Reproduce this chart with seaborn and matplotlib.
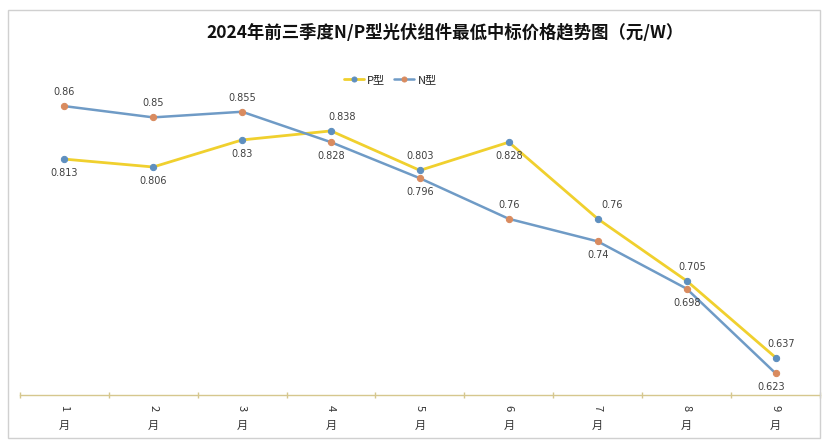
import numpy as np
import pandas as pd
import matplotlib
matplotlib.use("Agg")
import matplotlib.pyplot as plt
import seaborn as sns
from matplotlib.patches import Rectangle

months = ["1月", "2月", "3月", "4月", "5月", "6月", "7月", "8月", "9月"]
p_type = [0.813, 0.806, 0.83, 0.838, 0.803, 0.828, 0.76, 0.705, 0.637]
n_type = [0.86, 0.85, 0.855, 0.828, 0.796, 0.76, 0.74, 0.698, 0.623]

sns.set_theme(style="white")
plt.rcParams["font.family"] = ["Noto Sans CJK SC", "DejaVu Sans"]

x = np.arange(len(months))
df = pd.DataFrame({"x": x, "P型": p_type, "N型": n_type})

fig = plt.figure(figsize=(8.25, 4.45), dpi=100)
ax = fig.add_axes([0.024, 0.112, 0.97, 0.76])

sns.lineplot(data=df, x="x", y="P型", ax=ax, color="#F0D02E", lw=2,
             marker="o", markersize=4.5, markerfacecolor="#5E8FBF",
             markeredgecolor="#5E8FBF", label="P型")
sns.lineplot(data=df, x="x", y="N型", ax=ax, color="#6F9BC6", lw=1.8,
             marker="o", markersize=4.5, markerfacecolor="#D98B5F",
             markeredgecolor="#D98B5F", label="N型")

# data labels: +1 above, -1 below, plus small sideways nudge
p_side = [-1, -1, -1, 1, 1, -1, 1, 1, 1]
p_dx = [0, 0, 0, 8, 0, 0, 10, 4, 4]
n_side = [1, 1, 1, -1, -1, 1, -1, -1, -1]
n_dx = [0, 0, 0, 0, 0, 0, 0, 0, -3]
for vals, side, dx in [(p_type, p_side, p_dx), (n_type, n_side, n_dx)]:
    for i, v in enumerate(vals):
        ax.annotate(f"{v:g}", (i, v), xytext=(dx[i], 10 * side[i]),
                    textcoords="offset points", ha="center", va="center",
                    fontsize=7, color="#404040", family=["DejaVu Sans"])

ax.set_xlim(-0.5, len(months) - 0.5)
ax.set_ylim(0.6036, 0.9036)
ax.set_yticks([])
ax.set_xlabel("")
ax.set_ylabel("")
for s in ["left", "top", "right"]:
    ax.spines[s].set_visible(False)
axis_col = "#D6C78E"
ax.spines["bottom"].set_color(axis_col)
ax.spines["bottom"].set_linewidth(1)
ax.set_xticks(np.arange(-0.5, len(months), 1))
ax.set_xticklabels([])
ax.tick_params(axis="x", direction="inout", length=5, color=axis_col, width=1, bottom=True)

# stacked vertical month labels (digit rotated, 月 upright)
for i, m in enumerate(months):
    ax.annotate(m[:-1], (i, 0), xycoords=("data", "axes fraction"), xytext=(0, -9),
                textcoords="offset points", ha="center", va="center",
                rotation=-90, fontsize=8, color="#333333")
    ax.annotate(m[-1], (i, 0), xycoords=("data", "axes fraction"), xytext=(0, -22),
                textcoords="offset points", ha="center", va="center",
                fontsize=8, color="#333333")

ax.legend(loc="center", bbox_to_anchor=(0.473, 0.82), bbox_transform=fig.transFigure,
          ncol=2, frameon=False, fontsize=8, handlelength=1.8, columnspacing=0.8,
          handletextpad=0.3, markerscale=0.8)

fig.text(0.54, 0.927, "2024年前三季度N/P型光伏组件最低中标价格趋势图（元/W）",
         ha="center", va="center", fontsize=12.5, fontweight="bold", color="#111111")

fig.patches.append(Rectangle((0.0097, 0.0157), 0.984, 0.962, transform=fig.transFigure,
                             fill=False, edgecolor="#D0D0D0", lw=1))

fig.savefig("out.png", dpi=100)
